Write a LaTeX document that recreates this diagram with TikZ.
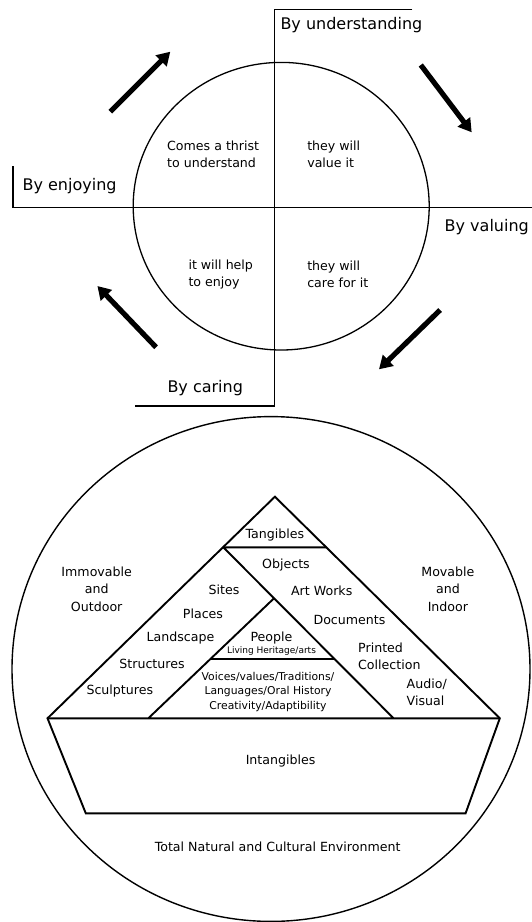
\documentclass[tikz,border=0pt]{standalone}
\usepackage{fontspec}
\setmainfont{DejaVu Sans}
\usetikzlibrary{arrows.meta}

\begin{document}
\begin{tikzpicture}[x=1pt,y=-1pt,
    lbl/.style={font=\fontsize{16}{18}\selectfont,inner sep=0pt},
    txt/.style={font=\fontsize{12.6}{17}\selectfont,align=left,inner sep=0pt},
    ctxt/.style={font=\fontsize{12.6}{17.3}\selectfont,align=center,inner sep=0pt},
    stxt/.style={font=\fontsize{10.8}{14.7}\selectfont,align=center,inner sep=0pt},
    bigarrow/.style={line width=5.2pt,-{Triangle[length=13pt,width=15pt]}},
    pyr/.style={line width=1.9pt}]
  \useasboundingbox (0,0) rectangle (532,922);

  % cycle of the four steps
  \draw[line width=1.3pt] (281.2,206.2) ellipse (148pt and 143.8pt);
  \draw[line width=1.3pt] (12.9,166) -- (12.9,207.3) -- (532,207.3);
  \draw[line width=1.3pt] (412.3,9.3) -- (274.2,9.3) -- (274.2,406) -- (135,406);
  \node[lbl,anchor=west] (und) at (280.3,25) {By understanding};
  \node[lbl,anchor=west] (enj) at (22.4,186) {By enjoying};
  \node[lbl,anchor=west] (val) at (444.5,227) {By valuing};
  \node[lbl,anchor=west] (car) at (167.3,388) {By caring};
  \node[txt,anchor=west] (q1) at (167,154.5) {Comes a thrist\\to understand};
  \node[txt,anchor=west] (q2) at (307.1,154.5) {they will\\value it};
  \node[txt,anchor=west] (q3) at (188.3,274.5) {it will help\\to enjoy};
  \node[txt,anchor=west] (q4) at (307.1,274.5) {they will\\care for it};
  \foreach \xa/\ya/\xb/\yb in {110.3/111.7/170.3/51.7, 420.8/65/471.7/132.3,
                               440.1/310/379/369.3, 156.1/347.3/97.4/286}
    \draw[bigarrow] (\xa,\ya) -- (\xb,\yb);

  % heritage pyramid
  \draw[line width=1.4pt] (271,669) ellipse (259pt and 252.4pt);
  \coordinate (apex) at (274.9,496.7);
  \coordinate (bl) at (47.5,718.3);
  \coordinate (br) at (499.8,718.3);
  \coordinate (t1) at (223.3,547.3);
  \coordinate (t2) at (326.2,547.3);
  \coordinate (m1) at (393.6,718.3);
  \coordinate (p1) at (274,598.3);
  \coordinate (p2) at (148.3,718.3);
  \coordinate (r1) at (210,659);
  \coordinate (r2) at (334.5,659);
  \coordinate (ib1) at (85.8,813.3);
  \coordinate (ib2) at (465.6,813.3);
  \draw[pyr] (bl) -- (apex) -- (br) -- (ib2) -- (ib1) -- cycle;
  \draw[pyr] (bl) -- (br) (t1) -- (t2) (t1) -- (m1) (p1) -- (p2) (r1) -- (r2);

  \node[ctxt] (tang) at (274.9,535) {Tangibles};
  \node[ctxt] (obj) at (286,565) {Objects};
  \node[ctxt] (art) at (321.7,591) {Art Works};
  \node[ctxt] (doc) at (349.5,620) {Documents};
  \node[txt,anchor=west] (print) at (358,656.3) {Printed\\Collection};
  \node[txt,anchor=west] (audio) at (406.5,692.6) {Audio/\\Visual};
  \node[ctxt] (mov) at (447.9,589) {Movable\\and\\Indoor};
  \node[ctxt] (immov) at (96.7,589) {Immovable\\and\\Outdoor};
  \node[ctxt] (sites) at (224,590) {Sites};
  \node[ctxt] (plac) at (203,614) {Places};
  \node[ctxt] (land) at (180.5,637.7) {Landscape};
  \node[ctxt] (struc) at (152,664.3) {Structures};
  \node[ctxt] (sculp) at (119.8,691) {Sculptures};
  \node[ctxt] (peop) at (271.5,637.7) {People};
  \node[font=\fontsize{9}{10}\selectfont,inner sep=0pt] (liv) at (271.5,651) {Living Heritage/arts};
  \node[stxt] (voic) at (268,692) {Voices/values/Traditions/\\Languages/Oral History\\Creativity/Adaptibility};
  \node[ctxt] (intang) at (280.6,761) {Intangibles};
  \node[ctxt] (total) at (277.6,846.7) {Total Natural and Cultural Environment};
\end{tikzpicture}
\end{document}
